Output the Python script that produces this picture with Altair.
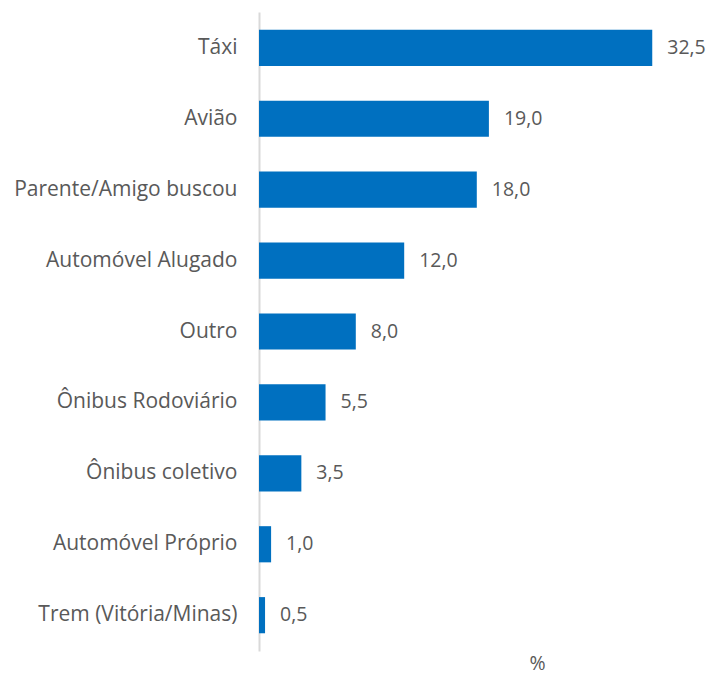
import altair as alt
import pandas as pd

categories = ["Táxi", "Avião", "Parente/Amigo buscou", "Automóvel Alugado", "Outro",
              "Ônibus Rodoviário", "Ônibus coletivo", "Automóvel Próprio", "Trem (Vitória/Minas)"]
values = [32.5, 19.0, 18.0, 12.0, 8.0, 5.5, 3.5, 1.0, 0.5]
labels = [f"{v:.1f}".replace(".", ",") for v in values]

df = pd.DataFrame({"cat": categories, "val": values, "lab": labels})

FONT = "Open Sans"
GRAY = "#595959"

y = alt.Y("cat:N", sort=categories, title=None,
          scale=alt.Scale(paddingInner=0.49, paddingOuter=0.25),
          axis=alt.Axis(ticks=False, labelPadding=22, labelFont=FONT, labelFontSize=21,
                        labelColor=GRAY, domainColor="#D9D9D9", domainWidth=2,
                        labelLimit=300))
x = alt.X("val:Q", scale=alt.Scale(domain=[0, 35], nice=False),
          axis=alt.Axis(domain=False, ticks=False, labels=False, grid=False, title="%",
                        titleFont=FONT, titleFontSize=19.5, titleColor=GRAY,
                        titleFontWeight="normal", titleX=278, titleY=18,
                        titleAlign="center", titleBaseline="alphabetic"))

bars = alt.Chart(df).mark_bar(color="#0070C0").encode(x=x, y=y)
text = alt.Chart(df).mark_text(align="left", baseline="middle", dx=15, font=FONT,
                               fontSize=19.5, color=GRAY).encode(x="val:Q", y=alt.Y("cat:N", sort=categories), text="lab:N")

chart = (bars + text).properties(
    width=423.5, height=639,
    autosize=alt.AutoSizeParams(type="none"),
    padding={"left": 251, "top": 4, "right": 24, "bottom": 24},
).configure_view(stroke=None)

chart.save("out.html", embed_options={"renderer": "svg", "actions": False})
